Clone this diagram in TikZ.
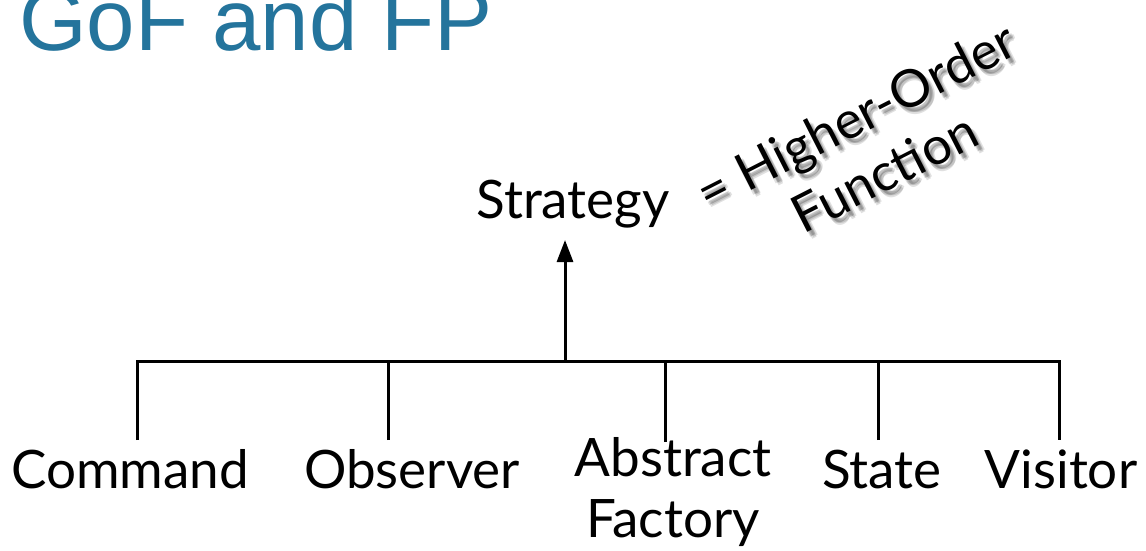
\documentclass[tikz,border=0pt]{standalone}
\usepackage{fontspec}
\setmainfont{Lato}
\newfontfamily\titlefont{Liberation Sans}
\usetikzlibrary{arrows.meta}
\definecolor{titleblue}{RGB}{36,116,156}
\tikzset{
  lbl/.style={font=\fontsize{53}{61}\selectfont, inner sep=0pt, anchor=base, text=black},
  rot/.style={font=\fontsize{52}{63}\selectfont, inner sep=0pt, rotate=27, anchor=base, align=center},
  shadowtxt/.style={rot, text=black, opacity=0.12},
  wire/.style={line width=3pt, draw=black},
  up/.style={line width=3pt, draw=black, -{Triangle[width=16pt,length=22pt]}},
}
\begin{document}
\begin{tikzpicture}[x=1pt,y=-1pt]
\useasboundingbox (0,0) rectangle (1146,550);
\fill[white] (0,0) rectangle (1146,550);
% title
\node[font=\titlefont\fontsize{87}{90}\selectfont, text=titleblue, inner sep=0pt, anchor=base west] (title) at (19,50) {GoF and FP};
% strategy
\node[lbl] (strategy) at (573,218) {Strategy};
% rotated text with soft shadow
\foreach \dx/\dy in {3/5,5/7,4/4,6/5}{
  \node[shadowtxt] at (893+\dx,189+\dy) {= Higher-Order\\Function};
}
\node[rot] (hof) at (893,189) {= Higher-Order\\Function};
% leaves
\node[lbl] (cmd) at (130,488) {Command};
\node[lbl] (obs) at (412,488) {Observer};
\node[lbl, align=center] (af) at (673,537) {Abstract\\Factory};
\node[lbl] (state) at (882,488) {State};
\node[lbl] (vis) at (1061,488) {Visitor};
% connector points
\coordinate (cmdtop) at (137,440);
\coordinate (obstop) at (388,440);
\coordinate (aftop) at (665,442);
\coordinate (statetop) at (878,440);
\coordinate (vistop) at (1059,440);
\coordinate (strtip) at (565,240);
\coordinate (busM) at (565,361);
% bus
\draw[wire] (cmdtop) |- (busM) -| (vistop);
\draw[wire] (obstop) -- (obstop |- busM);
\draw[wire] (aftop) -- (aftop |- busM);
\draw[wire] (statetop) -- (statetop |- busM);
\draw[up] (busM) -- (strtip);
\end{tikzpicture}
\end{document}
